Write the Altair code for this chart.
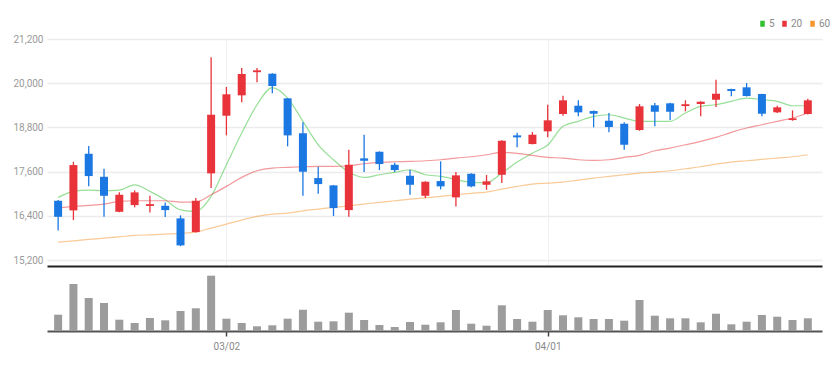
import altair as alt
import pandas as pd

# ---- data ----
dates = ["02/14", "02/15", "02/16", "02/17", "02/18", "02/21", "02/22", "02/23", "02/24", "02/25",
         "02/28", "03/02", "03/03", "03/04", "03/07", "03/08", "03/10", "03/11", "03/14", "03/15",
         "03/16", "03/17", "03/18", "03/21", "03/22", "03/23", "03/24", "03/25", "03/28", "03/29",
         "03/30", "03/31", "04/01", "04/04", "04/05", "04/06", "04/07", "04/08", "04/11", "04/12",
         "04/13", "04/14", "04/15", "04/18", "04/19", "04/20", "04/21", "04/22", "04/25", "04/26"]

opens = [16810, 16549, 18086, 17461, 16511, 16693, 16670, 16674, 16332, 15960,
         17554, 19118, 19671, 20300, 20258, 19590, 18640, 17426, 17228, 16557,
         17961, 18140, 17787, 17489, 16946, 17345, 16902, 17543, 17244, 17516,
         18585, 18349, 18694, 19164, 19389, 19245, 18982, 18900, 18729, 19400,
         19454, 19380, 19435, 19552, 19842, 19889, 19707, 19210, 19001, 19164]
highs = [16830, 17869, 18295, 17679, 17038, 17092, 16946, 16766, 16413, 16883,
         20703, 19897, 20413, 20413, 20270, 19600, 18938, 17733, 17240, 18194,
         18602, 18150, 17842, 17651, 17340, 17880, 17589, 17560, 17508, 18450,
         18656, 18675, 19416, 19661, 19536, 19260, 19191, 18938, 19435, 19460,
         19470, 19536, 19510, 20095, 19850, 20005, 19715, 19389, 19264, 19579]
lows = [16006, 16286, 17201, 16375, 16500, 16631, 16495, 16367, 15580, 15950,
        17155, 18585, 19481, 20024, 19726, 18287, 16946, 16999, 16394, 16375,
        17589, 17643, 17589, 16973, 16883, 17119, 16658, 17180, 17108, 17290,
        18260, 18340, 18531, 19118, 19101, 18803, 18667, 18194, 18710, 18830,
        19001, 19237, 19101, 19354, 19644, 19640, 19101, 19190, 18982, 19150]
closes = [16375, 17779, 17480, 16946, 16973, 17038, 16720, 16557, 15599, 16810,
          19145, 19699, 20250, 20350, 19924, 18585, 17597, 17263, 16612, 17787,
          17896, 17806, 17643, 17244, 17326, 17201, 17499, 17201, 17337, 18439,
          18531, 18602, 18993, 19536, 19210, 19172, 18811, 18330, 19373, 19226,
          19226, 19430, 19498, 19715, 19788, 19652, 19172, 19346, 19047, 19536]
volumes = [163000, 470000, 330000, 280000, 113000, 80000, 130000, 107000, 200000, 227000,
           553000, 123000, 80000, 47000, 57000, 123000, 213000, 93000, 97000, 183000,
           110000, 60000, 40000, 90000, 63000, 87000, 210000, 73000, 53000, 257000,
           120000, 93000, 210000, 157000, 137000, 120000, 120000, 103000, 310000, 153000,
           127000, 127000, 87000, 173000, 67000, 93000, 160000, 143000, 110000, 127000]

ma5 = [16902, 17065, 17100, 17082, 17100, 17244, 17065, 16837, 16565, 16522,
       16929, 17787, 18648, 19416, 19883, 19598, 18966, 18330, 17923, 17589,
       17445, 17516, 17581, 17651, 17516, 17472, 17391, 17309, 17299, 17562,
       17861, 18105, 18322, 18830, 18966, 19101, 19145, 19055, 18966, 18966,
       18966, 19191, 19373, 19416, 19509, 19598, 19552, 19509, 19389, 19389]
ma20 = [16612, 16658, 16685, 16720, 16794, 16810, 16810, 16810, 16775, 16775,
        16973, 17201, 17445, 17624, 17698, 17717, 17733, 17744, 17744, 17760,
        17814, 17852, 17869, 17880, 17896, 17923, 17969, 18004, 18059, 18124,
        18097, 18042, 17988, 17969, 17923, 17907, 17923, 17988, 18042, 18167,
        18241, 18330, 18423, 18531, 18667, 18784, 18873, 18966, 19055, 19191]
ma60 = [15689, 15724, 15762, 15797, 15832, 15870, 15887, 15906, 15925, 15960,
        16069, 16177, 16286, 16386, 16449, 16476, 16538, 16584, 16631, 16674,
        16720, 16766, 16810, 16856, 16891, 16929, 16973, 17011, 17046, 17127,
        17201, 17263, 17290, 17318, 17372, 17426, 17472, 17516, 17562, 17589,
        17624, 17679, 17733, 17806, 17861, 17896, 17934, 17969, 18004, 18059]

y_ticks = [15200, 16400, 17600, 18800, 20000, 21200]
x_tick_dates = ["03/02", "04/01"]
ma_names = ["5", "20", "60"]
ma_colors = ["#2fbf2f", "#e8333a", "#f5962f"]

UP = "#e8333a"
DOWN = "#1b78e2"
FONT = "Roboto"

n = len(dates)
idx = list(range(n))
candles = pd.DataFrame({"i": idx, "date": dates, "open": opens, "high": highs,
                        "low": lows, "close": closes, "volume": volumes})
ma_df = pd.concat([
    pd.DataFrame({"i": idx, "ma": name, "value": vals})
    for name, vals in zip(ma_names, [ma5, ma20, ma60])
])

tick_idx = [dates.index(d) for d in x_tick_dates]
label_expr = " : ".join(f"datum.value == {i} ? '{d}'" for i, d in zip(tick_idx, x_tick_dates)) + " : ''"

xscale = alt.Scale(domain=[-0.4, n - 0.4], nice=False, zero=False)
x_price = alt.X("i:Q", scale=xscale,
                axis=alt.Axis(values=tick_idx, labels=False, ticks=False, grid=True,
                              gridColor="#f0f0f0", gridWidth=1, domainColor="#222",
                              domainWidth=2, title=None))
yscale = alt.Scale(domain=[15040, 21200], nice=False, zero=False)
y_axis = alt.Axis(values=y_ticks, format=",d", title=None, ticks=False, domain=False,
                  gridColor="#ececec", gridWidth=1.5, labelColor="#9a9a9a",
                  labelFont=FONT, labelFontSize=10, labelPadding=4)

candle_color = alt.condition("datum.close >= datum.open", alt.value(UP), alt.value(DOWN))

base = alt.Chart(candles)
wicks = base.mark_rule(strokeWidth=1.3).encode(
    x=x_price,
    y=alt.Y("low:Q", scale=yscale, axis=y_axis),
    y2="high:Q",
    color=candle_color,
)
bodies = base.mark_bar(size=8).encode(
    x=x_price,
    y=alt.Y("open:Q", scale=yscale, axis=y_axis),
    y2="close:Q",
    color=candle_color,
)
lines = alt.Chart(ma_df).mark_line(strokeWidth=1.2, opacity=0.5, interpolate="monotone").encode(
    x=x_price,
    y=alt.Y("value:Q", scale=yscale, axis=y_axis),
    color=alt.Color("ma:N", scale=alt.Scale(domain=ma_names, range=ma_colors),
                    sort=ma_names,
                    legend=alt.Legend(orient="none", legendX=710, legendY=-21,
                                      direction="horizontal", title=None, padding=0,
                                      symbolType="M0,-1V1",
                                      symbolSize=36, symbolOpacity=1,
                                      symbolStrokeWidth=4.5,
                                      labelFont=FONT, labelFontSize=10,
                                      labelColor="#8a8a8a", labelOffset=1,
                                      columnPadding=0)),
)
price = alt.layer(lines, wicks, bodies).properties(width=775, height=227)

vol = alt.Chart(candles).mark_bar(size=8, color="#9c9c9c").encode(
    x=alt.X("i:Q", scale=xscale,
            axis=alt.Axis(values=tick_idx, labelExpr=label_expr, grid=False,
                          ticks=True, tickSize=5, tickColor="#444", tickWidth=1.5,
                          domainColor="#555", domainWidth=2, title=None,
                          labelColor="#8a8a8a", labelFont=FONT, labelFontSize=10,
                          labelPadding=5)),
    y=alt.Y("volume:Q", scale=alt.Scale(domain=[0, 600000]), axis=None),
).properties(width=775, height=60)

chart = alt.vconcat(price, vol, spacing=5).properties(
    padding={"left": 4, "top": 10, "right": 0, "bottom": 0}
).configure_view(stroke=None)

chart.save("out.html", embed_options={"renderer": "svg", "actions": False})
